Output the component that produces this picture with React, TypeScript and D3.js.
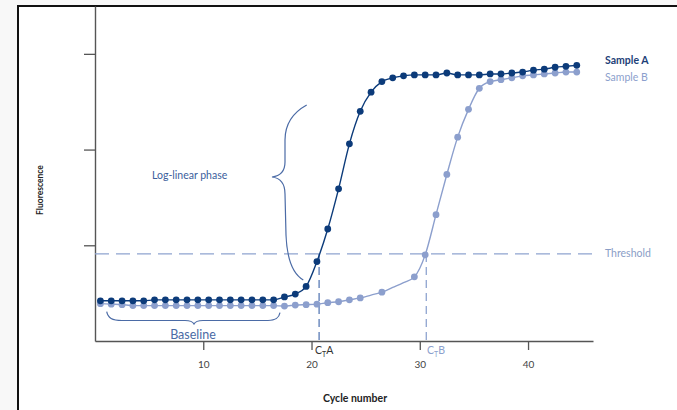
import { useEffect, useRef } from 'react'
import * as d3 from 'd3'

// cycle numbers of the plotted reads
const cycles = [
  1, 2, 3, 4, 5, 6, 7, 8, 9, 10, 11, 12, 13, 14, 15, 16, 17, 18, 19, 20, 21, 22, 23,
  24, 25, 26, 27, 28, 29, 30, 31, 32, 33, 34, 35, 36, 37, 38, 39, 40, 41, 42, 43, 44, 45
]

// fluorescence (arbitrary units, tick = 1)
const sampleA = [
  0.42, 0.42, 0.42, 0.42, 0.42, 0.43, 0.43, 0.43, 0.43, 0.43, 0.43, 0.43, 0.43, 0.43, 0.43,
  0.43, 0.43, 0.46, 0.49, 0.57, 0.83, 1.17, 1.59, 2.06, 2.4, 2.6, 2.71, 2.75, 2.77, 2.78,
  2.78, 2.78, 2.8, 2.78, 2.78, 2.78, 2.79, 2.79, 2.8, 2.81, 2.83, 2.84, 2.86, 2.87, 2.88
]
const sampleB = [
  0.39, 0.385, 0.38, 0.37, 0.37, 0.37, 0.37, 0.37, 0.37, 0.37, 0.37, 0.37, 0.37, 0.37, 0.37,
  0.37, 0.37, 0.365, 0.375, 0.38, 0.385, 0.4, 0.41, 0.43, 0.45, 0.48, 0.51, 0.56, 0.61, 0.67,
  0.9, 1.32, 1.74, 2.13, 2.42, 2.64, 2.71, 2.73, 2.75, 2.77, 2.78, 2.79, 2.8, 2.81, 2.81
]
// cycles of sample B that carry no marker in the original
const hiddenB = [26, 28, 29]

const xTicks = [10, 20, 30, 40]
const yTicks = [1, 2, 3]
const threshold = 0.91
const ctA = 20.7
const ctB = 30.6

const DARK = '#0c3b7a'
const LIGHT = '#8c9fcd'
const MID = '#4b6ba6'
const FONT = 'Lato, "Open Sans", sans-serif'

export default function App() {
  const svgRef = useRef<SVGSVGElement>(null)
  const width = 677
  const height = 410

  useEffect(() => {
    if (!svgRef.current) return
    const svg = d3.select(svgRef.current)
    svg.selectAll('*').remove()

    // frame
    svg.append('rect').attr('width', width).attr('height', height).attr('fill', '#f8f8f8')
    svg
      .append('rect')
      .attr('x', 18)
      .attr('y', 6)
      .attr('width', width + 20)
      .attr('height', height + 20)
      .attr('fill', '#fff')
      .attr('stroke', '#111')
      .attr('stroke-width', 2)

    const x = d3.scaleLinear().domain([0, 46]).range([95, 593])
    const y = d3.scaleLinear().domain([0, 3.5]).range([341, 6])
    // markers sit mid-cycle in the original drawing
    const px = (c: number) => x(c - 0.5)

    // axes
    const xAxis = svg
      .append('g')
      .attr('transform', `translate(0,${y(0)})`)
      .call(d3.axisBottom(x).tickValues(xTicks).tickSize(9).tickSizeOuter(0).tickPadding(11))
    xAxis.select('.domain').attr('stroke', '#555').attr('stroke-width', 1.4)
    xAxis.selectAll('.tick line').attr('stroke', '#555').attr('stroke-width', 1.3)
    xAxis
      .selectAll('.tick text')
      .attr('fill', '#444')
      .style('font-family', FONT)
      .style('font-size', '10px')

    const yAxis = svg
      .append('g')
      .attr('transform', `translate(${x(0)},0)`)
      .call(d3.axisLeft(y).tickValues(yTicks).tickSize(11).tickSizeOuter(0).tickFormat(() => ''))
    yAxis.select('.domain').attr('stroke', '#555').attr('stroke-width', 1.4)
    yAxis.selectAll('.tick line').attr('stroke', '#555').attr('stroke-width', 1.3)

    // threshold + Ct markers
    svg
      .append('line')
      .attr('x1', x(0))
      .attr('x2', x(46))
      .attr('y1', y(threshold))
      .attr('y2', y(threshold))
      .attr('stroke', '#8fa4d0')
      .attr('stroke-width', 1.3)
      .attr('stroke-dasharray', '14,7')

    const ctLines = [
      { ct: ctA, color: '#5a7bb6' },
      { ct: ctB, color: '#8fa4d0' }
    ]
    svg
      .selectAll('.ct')
      .data(ctLines)
      .enter()
      .append('line')
      .attr('x1', d => x(d.ct))
      .attr('x2', d => x(d.ct))
      .attr('y1', y(threshold))
      .attr('y2', y(0))
      .attr('stroke', d => d.color)
      .attr('stroke-width', 1.3)
      .attr('stroke-dasharray', '8,5')

    // braces
    svg
      .append('path')
      .attr(
        'd',
        'M306.7,105 C294,112 285,122 285,140 L285,162 C285,172 280,176 272,177 C280,178 285,183 285,194 L286,235 C287,260 293,274 303.3,280'
      )
      .attr('fill', 'none')
      .attr('stroke', MID)
      .attr('stroke-width', 1.2)
    svg
      .append('path')
      .attr(
        'd',
        'M106.7,311.7 C108,318 112,320.5 122,320.5 L185,320.5 C190,320.5 193,322 194,324 C195,322 198,320.5 203,320.5 L268,320.5 C276,320.5 279,318 280,312.7'
      )
      .attr('fill', 'none')
      .attr('stroke', MID)
      .attr('stroke-width', 1.2)

    // series
    const series = [
      { name: 'B', values: sampleB, color: LIGHT, hidden: hiddenB },
      { name: 'A', values: sampleA, color: DARK, hidden: [] as number[] }
    ]
    const line = d3
      .line<number>()
      .x((_, i) => px(cycles[i]))
      .y(d => y(d))
      .curve(d3.curveMonotoneX)

    series.forEach(s => {
      svg
        .append('path')
        .attr('d', line(s.values) || '')
        .attr('fill', 'none')
        .attr('stroke', s.color)
        .attr('stroke-width', 1.4)
      svg
        .selectAll(`.dot-${s.name}`)
        .data(s.values.map((v, i) => ({ c: cycles[i], v })).filter(d => !s.hidden.includes(d.c)))
        .enter()
        .append('circle')
        .attr('class', `dot-${s.name}`)
        .attr('cx', d => px(d.c))
        .attr('cy', d => y(d.v))
        .attr('r', 3.4)
        .attr('fill', s.color)
    })

    // texts
    const text = (tx: number, ty: number, str: string, size: number, color: string, weight = 'normal', anchor = 'start') =>
      svg
        .append('text')
        .attr('x', tx)
        .attr('y', ty)
        .attr('text-anchor', anchor)
        .attr('fill', color)
        .style('font-family', FONT)
        .style('font-size', `${size}px`)
        .style('font-weight', weight)
        .text(str)

    text(605, 64, 'Sample A', 10.5, '#1e3f78', 'bold')
    text(605, 81, 'Sample B', 10.5, LIGHT)
    text(605, 257, 'Threshold', 10.5, '#8a9dc6')
    text(152, 179, 'Log-linear phase', 10.5, '#3b5e9c')
    text(193, 339, 'Baseline', 12.5, '#4a6aa5', 'normal', 'middle')
    text(355, 402, 'Cycle number', 10.5, '#222', 'bold', 'middle')

    svg
      .append('text')
      .attr('transform', 'translate(43,190) rotate(-90)')
      .attr('text-anchor', 'middle')
      .attr('fill', '#222')
      .style('font-family', FONT)
      .style('font-size', '8.5px')
      .style('font-weight', 'bold')
      .text('Fluorescence')

    const ctLabels = [
      { x: 315, label: 'A', color: '#333' },
      { x: 427, label: 'B', color: LIGHT }
    ]
    ctLabels.forEach(l => {
      const t = svg
        .append('text')
        .attr('x', l.x)
        .attr('y', 354)
        .attr('fill', l.color)
        .style('font-family', FONT)
        .style('font-size', '10.5px')
      t.append('tspan').text('C')
      t.append('tspan').attr('dy', 2.5).style('font-size', '7px').text('T')
      t.append('tspan').attr('dy', -2.5).text(l.label)
    })
  }, [])

  return (
    <svg
      ref={svgRef}
      width={width}
      height={height}
      style={{ position: 'absolute', left: 0, top: 0, display: 'block' }}
    />
  )
}
